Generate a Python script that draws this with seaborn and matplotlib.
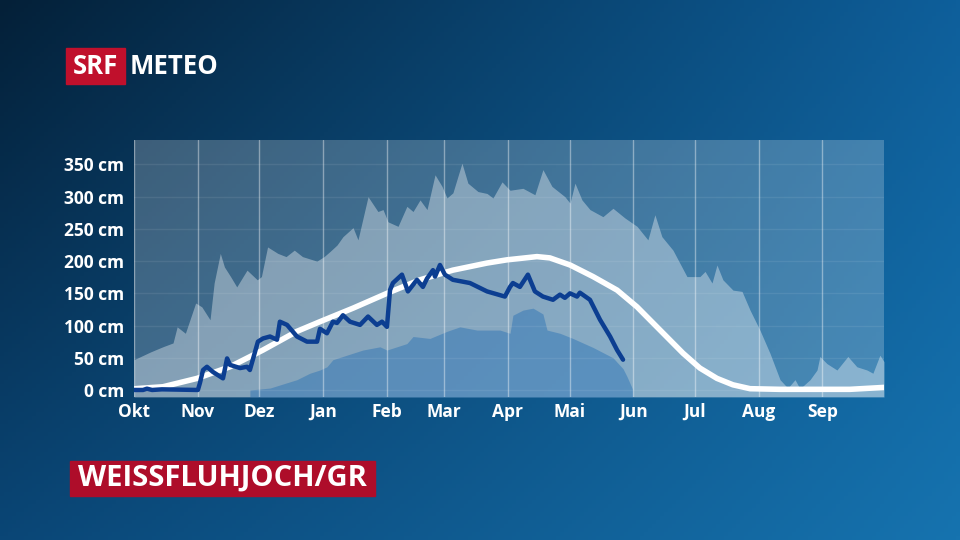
import numpy as np
import pandas as pd
import matplotlib
matplotlib.use("Agg")
import matplotlib.pyplot as plt
import seaborn as sns
from matplotlib.patches import Rectangle

# days counted from 1 October
months = ["Okt", "Nov", "Dez", "Jan", "Feb", "Mar", "Apr", "Mai", "Jun", "Jul", "Aug", "Sep"]
month_start = [0, 31, 61, 92, 123, 151, 182, 212, 243, 273, 304, 335]
y_ticks = [0, 50, 100, 150, 200, 250, 300, 350]
y_labels = [f"{v} cm" for v in y_ticks]

# maximum snow depth (upper edge of light band)
max_day = [0, 8, 14, 19, 21, 25, 30, 33, 37, 39, 42, 44, 47, 50, 55, 60, 62, 65, 70, 74,
           78, 82, 89, 92.5, 95.4, 98.8, 101.7, 106.6, 109, 113.9, 118.7, 121.2, 123.6,
           128.5, 132.8, 135.8, 139.2, 142.6, 146.5, 149.9, 152.3, 155.2, 159.6, 162.5,
           167.4, 171.8, 174.7, 179.1, 183, 189.3, 195.1, 199, 203.4, 209.7, 212.2, 214.6,
           218, 221.9, 228.2, 233.1, 238.9, 244.8, 250.1, 253.5, 256.9, 262.3, 269.1,
           275.4, 277.9, 281.3, 283.7, 286.6, 291.5, 295.9, 299.8, 304.6, 309.5, 314.4,
           318.2, 321.7, 324.1, 329, 332.4, 333.8, 337.2, 342.1, 347.4, 351.8, 356.7,
           359.6, 363, 365]
max_cm = [47, 59, 67, 73, 98, 88, 135, 129, 109, 166, 212, 191, 176, 160, 186, 171, 176,
          222, 212, 207, 217, 207, 200, 207, 215, 225, 238, 252, 233, 300, 277, 280, 261,
          254, 285, 277, 295, 280, 334, 316, 298, 306, 352, 321, 308, 305, 298, 323, 310,
          313, 303, 342, 316, 300, 290, 321, 295, 280, 269, 282, 267, 254, 233, 272, 238,
          217, 176, 176, 184, 166, 194, 171, 155, 153, 124, 93, 57, 16, 3, 16, 2, 16, 31,
          52, 41, 31, 52, 36, 31, 26, 54, 44]

# minimum snow depth (upper edge of darker band)
min_day = [0, 56.4, 66.2, 79.3, 85.6, 90.5, 93.9, 96.8, 103.6, 111.4, 119.7, 123.1,
           132.8, 135.8, 144, 152.3, 158.6, 166.9, 178.1, 183, 184.4, 189.3, 194.2, 199,
           201, 207.3, 213.6, 223.4, 233.1, 238, 239.9, 242.8, 365]
min_cm = [0, 0, 3, 16, 26, 31, 36, 47, 54, 62, 67, 62, 72, 83, 80, 91, 98, 93, 93, 88,
          116, 124, 127, 118, 93, 88, 80, 66, 50, 33, 21, 0, 0]

# mean snow depth (white line)
mean_day = [0.5, 14.1, 30.7, 46.7, 62.8, 79.3, 90.5, 106.6, 123.1, 139.2, 155.2, 171.8,
            181.5, 196.1, 202.4, 212.2, 223.4, 235.1, 244.8, 256, 267.2, 275.4, 283.7,
            291.5, 299.8, 314.4, 348.4, 365]
mean_cm = [2, 5, 18, 36, 62, 91, 106, 127, 150, 171, 186, 197, 202, 207, 205, 194, 176,
           155, 129, 93, 57, 34, 18, 8, 2, 1, 1, 4]

# current season (dark blue line)
cur_day = [0, 4.4, 6.3, 8.8, 13.6, 31.1, 32.1, 33.6, 35.5, 38.4, 43.3, 45.3, 46.7, 51.6,
           55, 56.4, 60.3, 62.8, 66.2, 69.6, 71, 74.5, 79.3, 84.2, 89.1, 90.5, 93.9, 96.8,
           98.8, 101.7, 105.1, 110, 113.9, 118.2, 120.7, 123.1, 124.6, 126, 130.4, 133.3,
           137.7, 140.6, 142.6, 145.5, 146.5, 148.9, 151.3, 155.2, 163.5, 171.8, 180.5,
           183, 184.4, 187.8, 191.7, 195.1, 199, 203.9, 207.3, 209.7, 212.2, 215.6, 217,
           221.9, 226.8, 231.7, 235.1, 238]
cur_cm = [0, 0, 2, 0, 1, 0, 11, 31, 36, 28, 18, 49, 39, 34, 36, 31, 75, 80, 83, 78, 106,
          101, 83, 75, 75, 95, 88, 106, 104, 116, 106, 101, 114, 101, 106, 98, 155, 166,
          179, 153, 171, 160, 173, 186, 176, 194, 179, 171, 166, 153, 145, 160, 166, 160,
          179, 153, 145, 140, 148, 143, 150, 145, 151, 140, 109, 83, 62, 47]

mean_df = pd.DataFrame({"day": mean_day, "cm": mean_cm})
cur_df = pd.DataFrame({"day": cur_day, "cm": cur_cm})

sns.set_style("white")
plt.rcParams["font.family"] = ["Open Sans", "DejaVu Sans"]

W, H = 960, 540
fig = plt.figure(figsize=(9.6, 5.4), dpi=100)

# background gradient
bg = fig.add_axes([0, 0, 1, 1])
gx = np.linspace(0, 1, 240)
gy = np.linspace(0, 1, 135)
X, Y = np.meshgrid(gx, gy)
tl = np.array([4, 32, 56]) / 255
tr = np.array([14, 95, 155]) / 255
bl = np.array([10, 70, 118]) / 255
br = np.array([22, 115, 175]) / 255
img = ((1 - X) * (1 - Y))[..., None] * tl + (X * (1 - Y))[..., None] * tr \
    + ((1 - X) * Y)[..., None] * bl + (X * Y)[..., None] * br
bg.imshow(img, extent=[0, 1, 0, 1], aspect="auto", origin="upper")
bg.set_axis_off()

# plot area
px0, px1, py0, py1 = 134, 884, 140, 397
ax = fig.add_axes([px0 / W, 1 - py1 / H, (px1 - px0) / W, (py1 - py0) / H])
ax.set_facecolor((1, 1, 1, 0.22))
ybot, ytop = -10.9, 388
ax.set_xlim(0, 365)
ax.set_ylim(ybot, ytop)

ax.fill_between(max_day, ybot, max_cm, color="white", alpha=0.36, lw=0)
mask = np.array(min_cm) > 0
mask[1:] |= mask[:-1].copy()
mask[:-1] |= np.array(min_cm)[1:] > 0
ax.fill_between(min_day, ybot, min_cm, where=mask, color=(0.12, 0.42, 0.70),
                alpha=0.42, lw=0)

for v in y_ticks:
    ax.axhline(v, color="white", alpha=0.08, lw=1, zorder=1)
for d in month_start:
    ax.axvline(d, color="white", alpha=0.4, lw=1, zorder=1)

sns.lineplot(data=mean_df, x="day", y="cm", ax=ax, color="white", lw=4, zorder=3)
sns.lineplot(data=cur_df, x="day", y="cm", ax=ax, color="#0c3e91", lw=3.2, zorder=4)

for s in ax.spines.values():
    s.set_visible(False)
ax.set_xlabel("")
ax.set_ylabel("")
ax.set_yticks(y_ticks)
ax.set_yticklabels(y_labels)
ax.set_xticks(month_start)
ax.set_xticklabels(months)
ax.tick_params(axis="both", length=0, colors="white", labelsize=12.5)
ax.tick_params(axis="y", pad=7)
ax.tick_params(axis="x", pad=4)
for lab in ax.get_xticklabels() + ax.get_yticklabels():
    lab.set_fontweight("bold")

# logo
fig.patches.append(Rectangle((66 / W, 1 - 84 / H), 59 / W, 36 / H,
                             transform=fig.transFigure, color="#c0102c", zorder=5))
fig.text(95.5 / W, 1 - 66 / H, "SRF", color="white", fontsize=18.5, fontweight="bold",
         ha="center", va="center", zorder=6)
fig.text(130 / W, 1 - 66 / H, "METEO", color="white", fontsize=18.5, fontweight="bold",
         ha="left", va="center", zorder=6)

# station label
fig.patches.append(Rectangle((70 / W, 1 - 496 / H), 305 / W, 35 / H,
                             transform=fig.transFigure, color="#ae0d2a", zorder=5))
fig.text(222.5 / W, 1 - 478.5 / H, "WEISSFLUHJOCH/GR", color="white", fontsize=21,
         fontweight="bold", ha="center", va="center", zorder=6)

fig.savefig("out.png", dpi=100)
